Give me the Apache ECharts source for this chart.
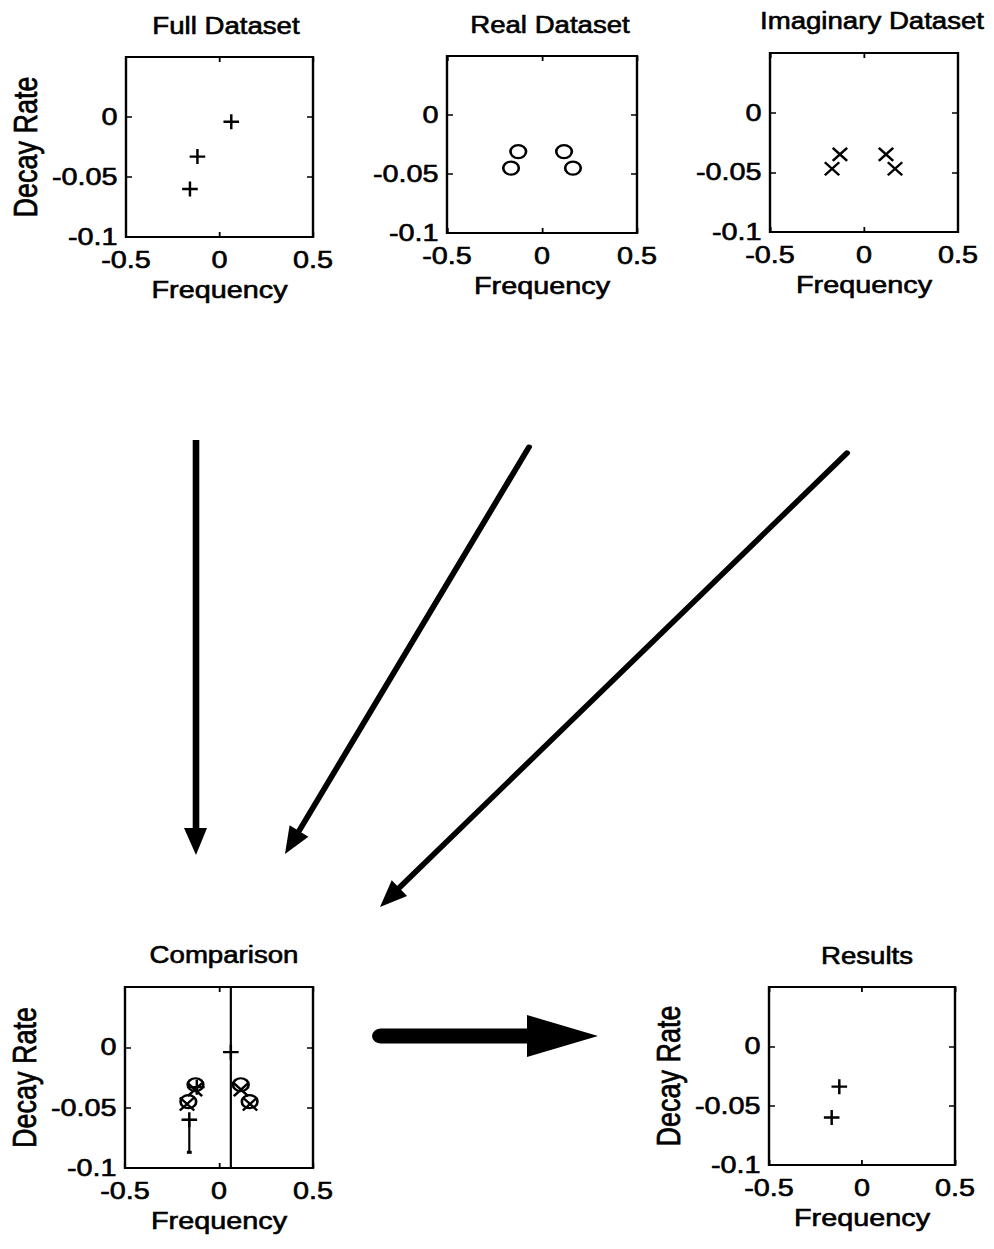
<!DOCTYPE html>
<html>
<head>
<meta charset="utf-8">
<script src="https://cdn.jsdelivr.net/npm/echarts@6/dist/echarts.min.js"></script>
<style>
  html, body { margin: 0; padding: 0; background: #fff; overflow: hidden; }
  #wrap { width: 994px; height: 1249px; overflow: hidden; }
  #main { width: 828px; height: 1249px; transform: scaleX(1.2004831); transform-origin: 0 0; }
</style>
</head>
<body>
<div id="wrap"><div id="main"></div></div>
<script>
// Pole estimates: frequency vs. decay rate for each dataset
const freqTicks = [-0.5, 0, 0.5];
const decayTicks = [-0.1, -0.05, 0];
const decayTop = 0.05;

const fullFreq = [0.063, -0.118, -0.158];
const fullDecay = [-0.004, -0.033, -0.060];

const realFreq = [-0.125, -0.163, 0.116, 0.163];
const realDecay = [-0.031, -0.045, -0.031, -0.045];

const imagFreq = [-0.128, -0.170, 0.117, 0.165];
const imagDecay = [-0.035, -0.047, -0.035, -0.047];

// error bounds on the full-dataset poles (null = no bar)
const errLow = [-0.2, null, -0.087];
const errHigh = [0.2, null, -0.060];

const resultFreq = [-0.122, -0.163];
const resultDecay = [-0.034, -0.060];

const panelTitles = ['Full Dataset', 'Real Dataset', 'Imaginary Dataset', 'Comparison', 'Results'];

// ---- layout ----
const SX = 994 / 828;               // horizontal stretch applied to the drawing
const X = px => px / SX;
const FONT = "'Liberation Sans', Arial, Helvetica, sans-serif";

const panels = [
  { left: 126, width: 187, top: 57,  height: 180, yName: true,  tx: 220, ty: 9 },
  { left: 447, width: 190, top: 56,  height: 177, yName: false, tx: 544, ty: 8 },
  { left: 770, width: 188, top: 53,  height: 179, yName: false, tx: 866, ty: 4 },
  { left: 125, width: 188, top: 987, height: 181, yName: true,  tx: 218, ty: 938 },
  { left: 769, width: 186, top: 987, height: 178, yName: true,  tx: 861, ty: 939 }
];

const zip = (a, b) => a.map((v, i) => [v, b[i]]);
const fmt = v => String(+(+v).toFixed(3));
const isTick = (list, v) => list.some(t => Math.abs(t - v) < 1e-9);

const PLUS = 'path://M0,5L10,5M5,0L5,10';
const CROSS = 'path://M0,0L10,10M10,0L0,10';
const RING = 'path://M0,5A5,5 0 1,0 10,5A5,5 0 1,0 0,5Z';
const strokeStyle = { color: 'transparent', borderColor: '#000', borderWidth: 2.2, opacity: 1 };

const grid = [], xAxis = [], yAxis = [], series = [];
const tick = { show: true, inside: true, length: 5, lineStyle: { color: '#000', width: 1.5 } };
const noLine = { show: false, onZero: false };
const ink = { color: '#000', textBorderColor: '#000', textBorderWidth: 0.6, fontFamily: FONT };
const labelStyle = Object.assign({ fontSize: 24 }, ink);

panels.forEach((p, i) => {
  grid.push({
    left: X(p.left), top: p.top, width: X(p.width), height: p.height,
    show: true, borderColor: '#000', borderWidth: 2, backgroundColor: 'transparent'
  });
  const xr = { gridIndex: i, type: 'value', min: freqTicks[0], max: freqTicks[freqTicks.length - 1],
               interval: 0.5, splitLine: { show: false }, axisLine: noLine, axisTick: tick };
  xAxis.push(Object.assign({}, xr, {
    position: 'bottom',
    axisLabel: Object.assign({ margin: 11, formatter: v => isTick(freqTicks, v) ? fmt(v) : '' }, labelStyle),
    name: 'Frequency', nameLocation: 'middle', nameGap: 41,
    nameTextStyle: Object.assign({}, labelStyle)
  }));
  xAxis.push(Object.assign({}, xr, { position: 'top', axisLabel: { show: false } }));

  const yr = { gridIndex: i, type: 'value', min: decayTicks[0], max: decayTop, interval: 0.05,
               splitLine: { show: false }, axisLine: noLine, axisTick: tick };
  yAxis.push(Object.assign({}, yr, {
    position: 'left',
    axisLabel: Object.assign({ margin: 7, formatter: v => isTick(decayTicks, v) ? fmt(v) : '' }, labelStyle),
    name: p.yName ? 'Decay Rate' : '', nameLocation: 'middle', nameGap: 70,
    nameTextStyle: Object.assign({}, labelStyle, { fontSize: 27 })
  }));
  yAxis.push(Object.assign({}, yr, { position: 'right', axisLabel: { show: false } }));
});

function scatter(i, data, symbol, size) {
  return {
    type: 'scatter', xAxisIndex: 2 * i, yAxisIndex: 2 * i, data,
    symbol, symbolSize: size, itemStyle: strokeStyle, silent: true, z: 3
  };
}

const plusSize = [13, 15], crossSize = [12, 13], ringSize = [13, 13];

series.push(scatter(0, zip(fullFreq, fullDecay), PLUS, plusSize));
series.push(scatter(1, zip(realFreq, realDecay), RING, ringSize));
series.push(scatter(2, zip(imagFreq, imagDecay), CROSS, crossSize));

// comparison: error bars on the full-dataset poles, then all three sets overlaid
const errData = fullFreq
  .map((f, k) => [f, errLow[k], errHigh[k]])
  .filter(d => d[1] !== null && d[2] !== null);

series.push({
  type: 'custom', xAxisIndex: 6, yAxisIndex: 6, data: errData, silent: true, z: 2,
  encode: { x: 0, y: [1, 2] },
  renderItem(params, api) {
    const cs = params.coordSys;
    const lo = api.coord([api.value(0), api.value(1)]);
    const hi = api.coord([api.value(0), api.value(2)]);
    const yTop = Math.max(hi[1], cs.y), yBot = Math.min(lo[1], cs.y + cs.height);
    const st = { stroke: '#000', lineWidth: 1.8 };
    const kids = [{ type: 'line', shape: { x1: lo[0], y1: yTop, x2: lo[0], y2: yBot }, style: st }];
    const cap = 5;
    if (hi[1] >= cs.y) kids.push({ type: 'line', shape: { x1: hi[0] - cap, y1: hi[1], x2: hi[0] + cap, y2: hi[1] }, style: st });
    if (lo[1] <= cs.y + cs.height) kids.push({ type: 'line', shape: { x1: lo[0] - 2, y1: lo[1], x2: lo[0] + 2, y2: lo[1] }, style: { stroke: '#000', lineWidth: 3 } });
    return { type: 'group', children: kids };
  }
});
series.push(scatter(3, zip(fullFreq, fullDecay), PLUS, plusSize));
series.push(scatter(3, zip(realFreq, realDecay), RING, ringSize));
series.push(scatter(3, zip(imagFreq, imagDecay), CROSS, crossSize));

series.push(scatter(4, zip(resultFreq, resultDecay), PLUS, plusSize));

// ---- flow arrows between panels ----
const fillInk = { fill: '#000' };
const arrows = [
  { type: 'line', shape: { x1: X(196), y1: 440, x2: X(196), y2: 830 }, style: { stroke: '#000', lineWidth: 5.5 } },
  { type: 'polygon', shape: { points: [[X(184), 828], [X(207), 828], [X(196), 855]] }, style: fillInk },

  { type: 'line', shape: { x1: X(529), y1: 447, x2: X(299), y2: 831 }, style: { stroke: '#000', lineWidth: 5, lineCap: 'round' } },
  { type: 'polygon', shape: { points: [[X(289.6), 825.3], [X(308.4), 836.7], [X(285), 854]] }, style: fillInk },

  { type: 'line', shape: { x1: X(847), y1: 453, x2: X(399), y2: 888 }, style: { stroke: '#000', lineWidth: 5, lineCap: 'round' } },
  { type: 'polygon', shape: { points: [[X(391.7), 880.3], [X(407.1), 896.1], [X(380), 907]] }, style: fillInk },

  { type: 'line', shape: { x1: X(381), y1: 1036, x2: X(530), y2: 1036 }, style: { stroke: '#000', lineWidth: 15, lineCap: 'round' } },
  { type: 'polygon', shape: { points: [[X(527), 1015], [X(527), 1057], [X(598), 1036]] }, style: fillInk }
];

const chart = echarts.init(document.getElementById('main'), null, { renderer: 'svg' });
chart.setOption({
  animation: false,
  backgroundColor: '#fff',
  title: panels.map((p, i) => ({
    text: panelTitles[i], left: X(p.tx), top: p.ty, textAlign: 'center',
    textStyle: Object.assign({ fontSize: 23, fontWeight: 'normal' }, ink)
  })),
  grid, xAxis, yAxis, series,
  graphic: arrows.map(a => Object.assign({ silent: true }, a))
});
</script>
</body>
</html>
